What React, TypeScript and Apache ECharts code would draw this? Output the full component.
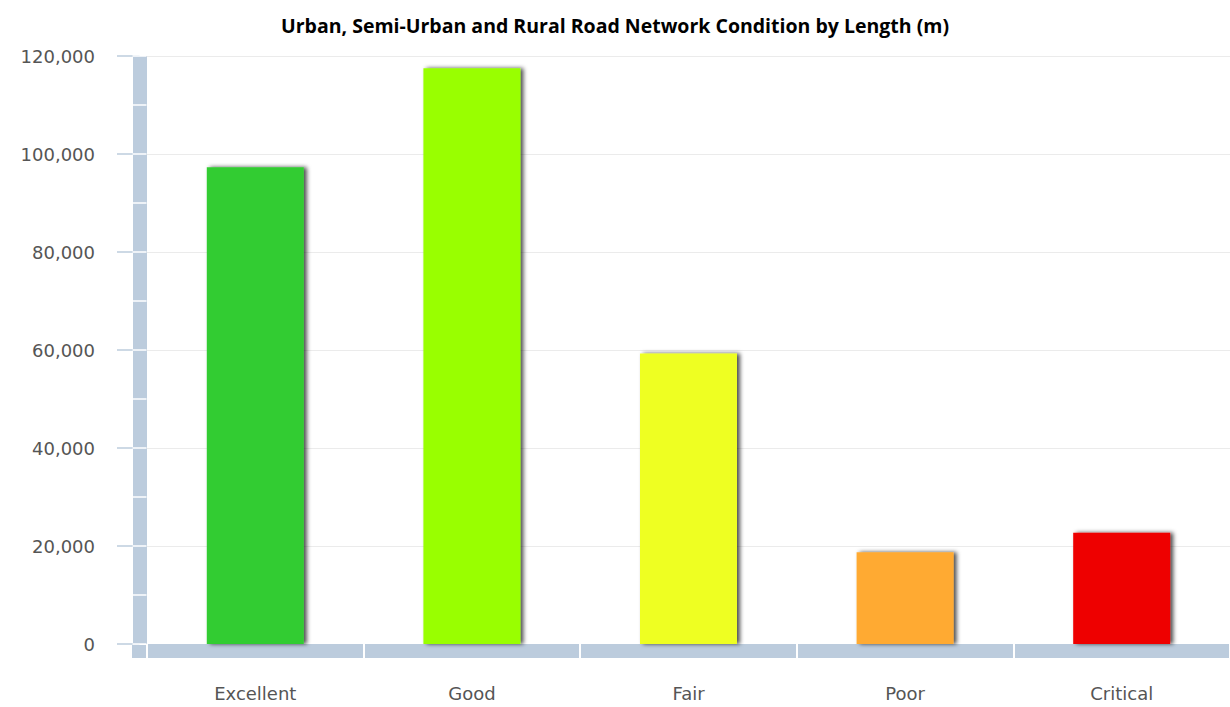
import React, { useEffect, useRef } from "react";
import * as echarts from "echarts";

const categories = ["Excellent", "Good", "Fair", "Poor", "Critical"];
const lengths = [97300, 117500, 59300, 18700, 22700];
const barColors = ["#33CC33", "#99FF00", "#EEFF22", "#FFAA33", "#EE0000"];
const yTicks = [0, 20000, 40000, 60000, 80000, 100000, 120000];

const GRID_LEFT = 147;
const GRID_TOP = 56;
const GRID_BOTTOM = 63;
const BAND = "#BCCCDD";

export default function App() {
  const ref = useRef<HTMLDivElement>(null);
  useEffect(() => {
    if (!ref.current) return;
    const chart = echarts.init(ref.current, null, { renderer: "svg" });
    const yMax = yTicks[yTicks.length - 1];
    const step = yTicks[1] - yTicks[0];
    chart.setOption({
      animation: false,
      backgroundColor: "#ffffff",
      title: {
        text: "Urban, Semi-Urban and Rural Road Network Condition by Length (m)",
        left: "center",
        top: 10,
        textStyle: {
          fontFamily: "Open Sans",
          fontWeight: "bold",
          fontSize: 19.5,
          color: "#000000",
        },
      },
      grid: { left: GRID_LEFT, right: 0, top: GRID_TOP, bottom: GRID_BOTTOM, containLabel: false },
      xAxis: [
        {
          type: "category",
          data: categories,
          position: "bottom",
          offset: 7,
          axisLine: { show: true, onZero: false, lineStyle: { color: BAND, width: 14, cap: "butt" } },
          axisTick: { show: false },
          axisLabel: {
            margin: 33,
            fontFamily: "DejaVu Sans",
            fontSize: 18,
            color: "#555555",
          },
          splitLine: { show: false },
          z: 2,
        },
        {
          type: "category",
          data: categories,
          position: "bottom",
          offset: 0,
          axisLine: { show: false, onZero: false },
          axisTick: { show: true, length: 15, lineStyle: { color: "#ffffff", width: 2 } },
          axisLabel: { show: false },
          splitLine: { show: false },
          z: 3,
        },
      ],
      yAxis: [
        {
          type: "value",
          min: 0,
          max: yMax,
          interval: step,
          position: "left",
          offset: 7.5,
          axisLine: { show: true, onZero: false, lineStyle: { color: BAND, width: 14, cap: "butt" } },
          axisTick: { show: true, length: 22.5, lineStyle: { color: BAND, width: 1.5 } },
          axisLabel: {
            margin: 44.5,
            fontFamily: "DejaVu Sans",
            fontSize: 18,
            color: "#555555",
            formatter: (v: number) => v.toLocaleString("en-US"),
          },
          splitLine: { show: true, lineStyle: { color: "#EBEBEB", width: 1 } },
          z: 2,
        },
        {
          type: "value",
          min: 0,
          max: yMax,
          interval: step / 2,
          position: "left",
          offset: 14.5,
          axisLine: { show: false, onZero: false },
          axisTick: { show: true, inside: true, length: 14, lineStyle: { color: "#ffffff", width: 1.5 } },
          axisLabel: { show: false },
          splitLine: { show: false },
          z: 3,
        },
      ],
      graphic: [
        {
          type: "rect",
          left: GRID_LEFT - 15,
          top: 707 - GRID_BOTTOM + 1,
          shape: { width: 14, height: 13 },
          style: { fill: BAND },
          z: 5,
        },
      ],
      series: [
        {
          type: "bar",
          xAxisIndex: 0,
          yAxisIndex: 0,
          barWidth: 97,
          data: lengths.map((v, i) => ({
            value: v,
            itemStyle: {
              color: barColors[i],
              shadowColor: "rgba(0,0,0,0.7)",
              shadowBlur: 4,
              shadowOffsetX: 3,
              shadowOffsetY: 0,
            },
          })),
          z: 10,
        },
      ],
    });
    return () => chart.dispose();
  }, []);
  return (
    <div
      ref={ref}
      style={{ position: "absolute", left: 0, top: 0, width: 1230, height: 707 }}
    />
  );
}
